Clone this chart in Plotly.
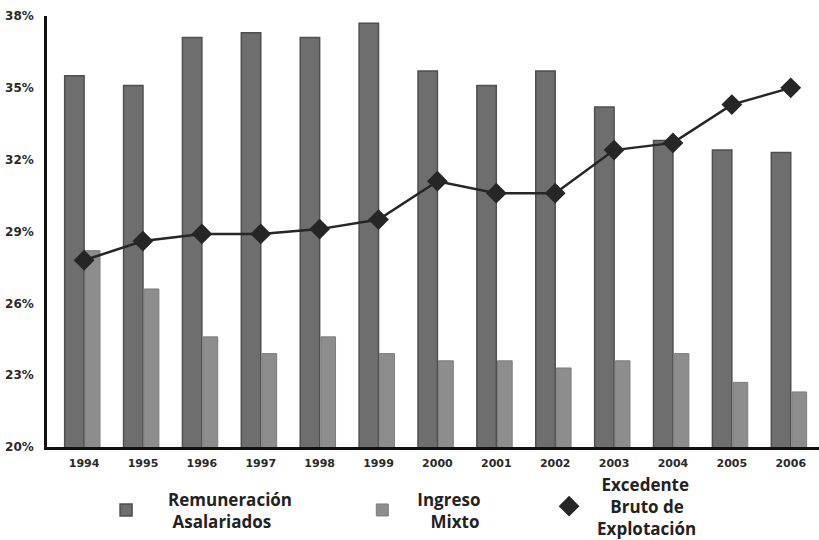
import plotly.graph_objects as go

# Participación en el PIB por componente del ingreso (%), 1994-2006
anios = ["1994", "1995", "1996", "1997", "1998", "1999", "2000",
         "2001", "2002", "2003", "2004", "2005", "2006"]
remuneracion = [35.5, 35.1, 37.1, 37.3, 37.1, 37.7, 35.7,
                35.1, 35.7, 34.2, 32.8, 32.4, 32.3]
ingreso_mixto = [28.2, 26.6, 24.6, 23.9, 24.6, 23.9, 23.6,
                 23.6, 23.3, 23.6, 23.9, 22.7, 22.3]
excedente = [27.8, 28.6, 28.9, 28.9, 29.1, 29.5, 31.1,
             30.6, 30.6, 32.4, 32.7, 34.3, 35.0]

y_ticks = [20, 23, 26, 29, 32, 35, 38]
y_labels = [f"<b>{v}%</b>" for v in y_ticks]
x_labels = [f"<b>{a}</b>" for a in anios]

NB = "\u00a0"
legend_font = dict(family="Open Sans", size=17, color="#222222")

fig = go.Figure()

fig.add_trace(go.Bar(
    x=anios, y=remuneracion,
    name="<b>Remuneración</b><br>" + NB + "<b>Asalariados</b>",
    offset=-0.33, width=0.33,
    marker=dict(color="#6e6e6e", line=dict(color="#4f4f4f", width=1.5)),
    legend="legend",
))
fig.add_trace(go.Bar(
    x=anios, y=ingreso_mixto,
    name="<b>Ingreso</b><br>" + NB * 3 + "<b>Mixto</b>",
    offset=0.02, width=0.25,
    marker=dict(color="#8d8d8d", line=dict(color="#7c7c7c", width=1)),
    legend="legend2",
))
# Connecting line (kept out of the legend) and diamond markers on top
fig.add_trace(go.Scatter(
    x=anios, y=excedente, mode="lines",
    line=dict(color="#262626", width=2.5),
    showlegend=False, hoverinfo="skip",
))
fig.add_trace(go.Scatter(
    x=anios, y=excedente, mode="markers",
    name=NB + "<b>Excedente</b><br>" + NB * 3 + "<b>Bruto de</b><br><b>Explotación</b>",
    marker=dict(symbol="diamond", size=16, color="#262626"),
    legend="legend3",
))

def legend_box(x, itemwidth, y=-0.147):
    return dict(
        x=x, y=y, xanchor="left", yanchor="middle",
        orientation="v", itemwidth=itemwidth, valign="middle",
        font=legend_font, bgcolor="rgba(0,0,0,0)", borderwidth=0,
        itemclick=False, itemdoubleclick=False,
    )

fig.update_layout(
    width=819, height=540,
    margin=dict(l=47, r=0, t=16, b=93, autoexpand=False),
    paper_bgcolor="white", plot_bgcolor="white",
    barmode="overlay",
    showlegend=True,
    legend=legend_box(0.048, 74),
    legend2=legend_box(0.389, 60),
    legend3=legend_box(0.640, 46, y=-0.138),
    xaxis=dict(
        type="category", range=[-0.63, 12.48],
        tickvals=anios, ticktext=x_labels,
        showgrid=False, ticks="", showline=True,
        linecolor="#111111", linewidth=2.5,
        tickfont=dict(family="DejaVu Sans", size=11, color="#2a2a2a"),
        ticklabelstandoff=4,
    ),
    yaxis=dict(
        range=[20, 38], tickvals=y_ticks, ticktext=y_labels,
        showgrid=False, zeroline=False, ticks="", showline=True,
        linecolor="#111111", linewidth=2.5,
        tickfont=dict(family="DejaVu Sans", size=12, color="#2a2a2a"),
        ticklabelstandoff=8,
    ),
)

fig.write_html("out.html")
